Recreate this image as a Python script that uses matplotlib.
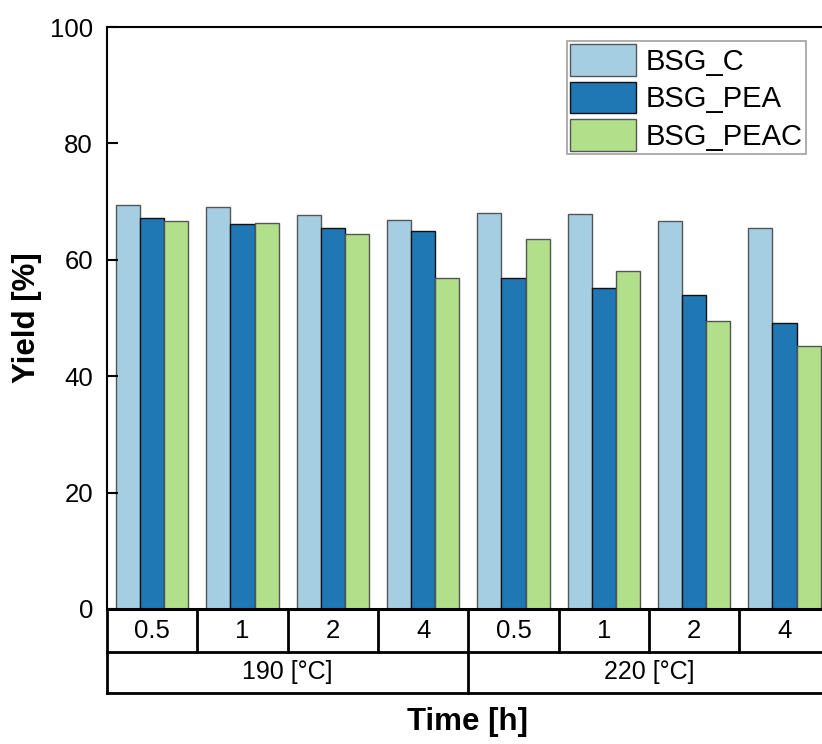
import numpy as np
import matplotlib
matplotlib.use("Agg")
import matplotlib.pyplot as plt
from matplotlib.transforms import blended_transform_factory

plt.rcParams['font.family'] = ['Liberation Sans', 'DejaVu Sans']

# data
times = ["0.5", "1", "2", "4", "0.5", "1", "2", "4"]
temps = ["190 [°C]", "220 [°C]"]
series = ["BSG_C", "BSG_PEA", "BSG_PEAC"]
bsg_c = [69.5, 69.0, 67.7, 66.8, 68.0, 67.9, 66.7, 65.5]
bsg_pea = [67.1, 66.2, 65.5, 64.9, 56.9, 55.1, 53.9, 49.2]
bsg_peac = [66.7, 66.4, 64.5, 56.9, 63.5, 58.0, 49.4, 45.2]

colors = ["#a6cee3", "#1f78b4", "#b2df8a"]
edges = ["#555555", "#111111", "#555555"]

fig = plt.figure(figsize=(8.22, 7.44), dpi=100)
# right edge of the axes lies just beyond the figure, as in the original
ax = fig.add_axes([107/822, 135/744, 722.7/822, 582/744])

x = np.arange(len(times))
w = 0.267
for i, (vals, c, ec, lab) in enumerate(zip([bsg_c, bsg_pea, bsg_peac], colors, edges, series)):
    ax.bar(x + (i - 1) * w, vals, width=w, color=c, edgecolor=ec, linewidth=1.0, label=lab)

ax.set_xlim(-0.5, len(times) - 0.5)
ax.set_ylim(0, 100)
ax.set_yticks([0, 20, 40, 60, 80, 100])
ax.tick_params(axis='y', direction='in', length=8, width=1.5, labelsize=18.5, pad=10)
ax.set_xticks([])
for s in ax.spines.values():
    s.set_linewidth(1.5)
ax.spines['bottom'].set_linewidth(2.2)
ax.set_ylabel("Yield [%]", fontsize=22.5, fontweight='bold', labelpad=6)

# category table under the axis
tr = blended_transform_factory(ax.transData, ax.transAxes)
r1 = -43 / 582
r2 = -84 / 582
lk = dict(color='black', lw=2, transform=tr, clip_on=False)
for b in np.arange(len(times) + 1) - 0.5:
    ax.plot([b, b], [0, r1], **lk)
ax.plot([-0.5, len(times) - 0.5], [r1, r1], **lk)
ax.plot([-0.5, len(times) - 0.5], [r2, r2], **lk)
ax.plot([-0.5, -0.5], [r1, r2], **lk)
ax.plot([3.5, 3.5], [r1, r2], **lk)
for xi, t in zip(x, times):
    ax.text(xi, r1 / 2, t, transform=tr, ha='center', va='center', fontsize=18.5)
for k, t in enumerate(temps):
    ax.text(1.5 + 4 * k, (r1 + r2) / 2, t, transform=tr, ha='center', va='center', fontsize=18)

fig.text(467/822, 1 - 722/744, "Time [h]", ha='center', va='center', fontsize=22.5, fontweight='bold')

leg = ax.legend(loc='upper left', bbox_to_anchor=(567/822, 1 - 41/744), bbox_transform=fig.transFigure,
                fontsize=21, frameon=True, fancybox=False, edgecolor='#888888',
                handlelength=2.25, handleheight=1.3, handletextpad=0.35, labelspacing=0.2,
                borderpad=0.1, borderaxespad=0)
leg.get_frame().set_linewidth(1.2)

fig.savefig("out.png", dpi=100)
